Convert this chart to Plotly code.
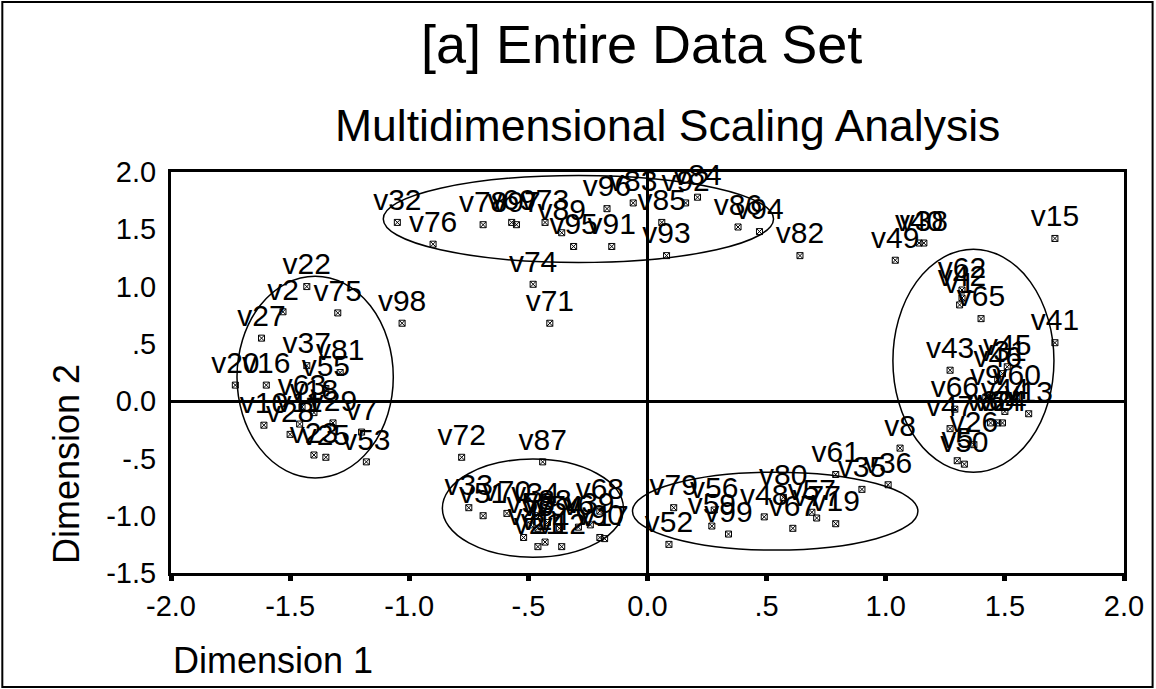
import plotly.graph_objects as go

# ---- data (Dimension 1, Dimension 2) ----
top_labels = ["v32", "v76", "v78", "v69", "v97", "v73", "v89", "v95", "v91", "v96",
              "v83", "v85", "v92", "v84", "v93", "v86", "v94", "v82", "v74", "v71"]
top_d1 = [-1.05, -0.90, -0.69, -0.57, -0.55, -0.43, -0.36, -0.31, -0.15, -0.17,
          -0.06, 0.06, 0.16, 0.21, 0.08, 0.38, 0.47, 0.64, -0.48, -0.41]
top_d2 = [1.56, 1.37, 1.54, 1.56, 1.54, 1.56, 1.47, 1.35, 1.35, 1.68,
          1.73, 1.56, 1.73, 1.78, 1.27, 1.52, 1.48, 1.27, 1.02, 0.68]

right_labels = ["v15", "v49", "v40", "v38", "v62", "v42", "v1", "v65", "v41", "v43",
                "v45", "v46", "v31", "v9", "v60", "v66", "v44", "v13", "v47", "v26",
                "v50", "v5", "v30", "v64", "v24", "v8", "v61", "v35", "v36"]
right_d1 = [1.71, 1.04, 1.14, 1.16, 1.32, 1.32, 1.31, 1.40, 1.71, 1.27,
            1.51, 1.47, 1.49, 1.42, 1.55, 1.29, 1.50, 1.60, 1.27, 1.37,
            1.33, 1.30, 1.44, 1.47, 1.49, 1.06, 0.79, 0.90, 1.01]
right_d2 = [1.42, 1.23, 1.38, 1.38, 0.97, 0.90, 0.84, 0.72, 0.51, 0.27,
            0.30, 0.19, 0.24, 0.035, 0.035, -0.07, -0.09, -0.11, -0.24, -0.38,
            -0.55, -0.52, -0.19, -0.19, -0.19, -0.41, -0.64, -0.77, -0.73]

botr_labels = ["v52", "v79", "v56", "v59", "v99", "v48", "v80", "v67", "v57", "v77", "v19"]
botr_d1 = [0.09, 0.11, 0.28, 0.27, 0.34, 0.49, 0.57, 0.61, 0.69, 0.71, 0.79]
botr_d2 = [-1.25, -0.93, -0.95, -1.09, -1.16, -1.01, -0.84, -1.11, -0.97, -1.02, -1.07]

botl_labels = ["v72", "v87", "v33", "v51", "v70", "v34", "v4", "v58", "v3", "v88",
               "v21", "v14", "v12", "v54", "v6", "v68", "v39", "v90", "v17"]
botl_d1 = [-0.78, -0.44, -0.75, -0.69, -0.59, -0.47, -0.52, -0.49, -0.46, -0.42,
           -0.46, -0.43, -0.36, -0.37, -0.29, -0.20, -0.24, -0.20, -0.18]
botl_d2 = [-0.49, -0.53, -0.93, -1.00, -0.98, -1.00, -1.19, -1.08, -1.11, -1.06,
           -1.27, -1.23, -1.27, -1.11, -1.10, -0.96, -1.08, -1.19, -1.20]

left_labels = ["v22", "v2", "v75", "v98", "v27", "v37", "v81", "v55", "v20", "v16",
               "v63", "v10", "v11", "v29", "v28", "v7", "v23", "v25", "v53", "v18"]
left_d1 = [-1.43, -1.53, -1.30, -1.03, -1.62, -1.43, -1.29, -1.35, -1.73, -1.60,
           -1.45, -1.61, -1.46, -1.32, -1.50, -1.20, -1.40, -1.35, -1.18, -1.40]
left_d2 = [1.00, 0.78, 0.77, 0.68, 0.55, 0.31, 0.25, 0.11, 0.14, 0.14,
           -0.05, -0.21, -0.20, -0.19, -0.29, -0.27, -0.47, -0.49, -0.53, -0.10]

# cluster ellipses: (center d1, center d2, radius d1, radius d2)
ell_cx = [-1.395, -0.29, 1.368, -0.481, 0.536]
ell_cy = [0.21, 1.59, 0.353, -0.934, -0.96]
ell_rx = [0.328, 0.819, 0.338, 0.38, 0.599]
ell_ry = [0.88, 0.38, 0.973, 0.428, 0.34]

x_ticks = [-2.0, -1.5, -1.0, -0.5, 0.0, 0.5, 1.0, 1.5, 2.0]
x_ticktext = ["-2.0", "-1.5", "-1.0", "-.5", "0.0", ".5", "1.0", "1.5", "2.0"]
y_ticks = [-1.5, -1.0, -0.5, 0.0, 0.5, 1.0, 1.5, 2.0]
y_ticktext = ["-1.5", "-1.0", "-.5", "0.0", ".5", "1.0", "1.5", "2.0"]

labels = top_labels + right_labels + botr_labels + botl_labels + left_labels
d1 = top_d1 + right_d1 + botr_d1 + botl_d1 + left_d1
d2 = top_d2 + right_d2 + botr_d2 + botl_d2 + left_d2

FONT = "Liberation Sans, Arial, sans-serif"

fig = go.Figure()
fig.add_trace(go.Scatter(
    x=d1, y=d2, mode="markers+text", text=labels, textposition="top center",
    textfont=dict(family=FONT, size=30, color="black"),
    marker=dict(symbol="square-x-open", size=6, color="black", line=dict(width=1, color="black")),
    cliponaxis=False, showlegend=False, hoverinfo="text",
))

for cx, cy, rx, ry in zip(ell_cx, ell_cy, ell_rx, ell_ry):
    fig.add_shape(type="circle", xref="x", yref="y",
                  x0=cx - rx, x1=cx + rx, y0=cy - ry, y1=cy + ry,
                  line=dict(color="black", width=1.5))

# outer border of the figure
fig.add_shape(type="rect", xref="paper", yref="paper",
              x0=-0.177, x1=1.030, y0=-0.284, y1=1.424,
              line=dict(color="black", width=2))

fig.add_annotation(text="[a] Entire Data Set", xref="paper", yref="paper",
                   x=0.494, y=1.32, xanchor="center", yanchor="middle", showarrow=False,
                   font=dict(family=FONT, size=54, color="black"))
fig.add_annotation(text="Multidimensional Scaling Analysis", xref="paper", yref="paper",
                   x=0.5215, y=1.115, xanchor="center", yanchor="middle", showarrow=False,
                   font=dict(family=FONT, size=44.5, color="black"))
fig.add_annotation(text="Dimension 1", xref="paper", yref="paper",
                   x=0.0, y=-0.217, xanchor="left", yanchor="middle", showarrow=False,
                   font=dict(family=FONT, size=36, color="black"))
fig.add_annotation(text="Dimension 2", xref="paper", yref="paper",
                   x=-0.109, y=0.272, xanchor="center", yanchor="middle", showarrow=False,
                   textangle=-90, font=dict(family=FONT, size=36, color="black"))

fig.update_xaxes(range=[-2.0, 2.0], tickvals=x_ticks, ticktext=x_ticktext,
                 showgrid=False, zeroline=True, zerolinecolor="black", zerolinewidth=3,
                 showline=True, linecolor="black", linewidth=3, mirror=True,
                 ticks="outside", ticklen=5, tickwidth=5, tickcolor="black",
                 tickfont=dict(family=FONT, size=29, color="black"))
fig.update_yaxes(range=[-1.5, 2.0], tickvals=y_ticks, ticktext=y_ticktext,
                 showgrid=False, zeroline=True, zerolinecolor="black", zerolinewidth=3,
                 showline=True, linecolor="black", linewidth=3, mirror=True,
                 ticks="outside", ticklen=6, tickcolor="rgba(0,0,0,0)",
                 tickfont=dict(family=FONT, size=29, color="black"))

fig.update_layout(width=1156, height=689,
                  margin=dict(l=171, r=32, t=172, b=116),
                  paper_bgcolor="white", plot_bgcolor="white",
                  font=dict(family=FONT, color="black"))

fig.write_html("out.html", config={"displayModeBar": False},
               post_script="document.body.style.margin='0px';document.body.style.overflow='hidden';")
